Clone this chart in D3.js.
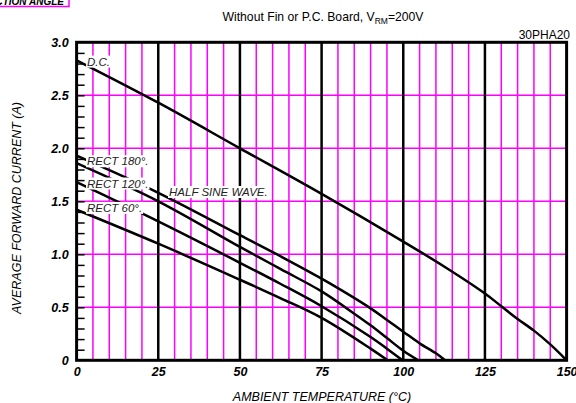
<!DOCTYPE html>
<html><head><meta charset="utf-8">
<script src="https://cdn.jsdelivr.net/npm/d3@7"></script>
<style>
html,body{margin:0;padding:0;background:#fff;overflow:hidden}
text{font-family:"Liberation Sans",Arial,sans-serif}
</style></head>
<body>
<svg id="c" width="576" height="403"></svg>
<script>
// ---- data ----
const xTicks = [0, 25, 50, 75, 100, 125, 150];
const yTicks = [0, 0.5, 1.0, 1.5, 2.0, 2.5, 3.0];
const xMinor = [5,10,15,20,30,35,40,45,55,60,65,70,80,85,90,95,105,110,115,120,130,135,140,145];
const xMajorGrid = [25, 50, 75, 100, 125];
const yGrid = [0.5, 1.0, 1.5, 2.0, 2.5];
const yMinorTicks = [0.1,0.2,0.3,0.4,0.5,0.6,0.7,0.8,0.9,1.0,1.1,1.2,1.3,1.4,1.5,1.6,1.7,1.8,1.9,2.0,2.1,2.2,2.3,2.4,2.5,2.6,2.7,2.8,2.9];

const dcTemp   = [0, 25, 50, 75, 100, 112.5, 125, 130, 135, 140, 145, 150];
const dcAmp    = [2.83, 2.43, 2.0, 1.57, 1.12, 0.885, 0.63, 0.51, 0.39, 0.28, 0.15, 0];
const r180Temp = [0, 25, 50, 62.5, 75, 90, 95, 100, 105, 110, 112.8];
const r180Amp  = [1.93, 1.58, 1.18, 0.98, 0.77, 0.49, 0.38, 0.27, 0.16, 0.066, 0];
const hsTemp   = [0, 25, 50, 62.5, 75, 85, 90, 95, 100, 104.6];
const hsAmp    = [1.86, 1.50, 1.07, 0.86, 0.65, 0.44, 0.33, 0.21, 0.09, 0];
const r120Temp = [0, 25, 50, 62.5, 75, 90, 95, 99.8];
const r120Amp  = [1.68, 1.31, 0.92, 0.72, 0.51, 0.22, 0.11, 0];
const r60Temp  = [0, 25, 50, 62.5, 75, 90, 95.2];
const r60Amp   = [1.42, 1.10, 0.76, 0.585, 0.40, 0.11, 0];

const curveLabels = ["D.C.", "RECT 180°.", "RECT 120°.", "RECT 60°.", "HALF SINE WAVE."];

// ---- drawing ----
const svg = d3.select("#c");
const x = d3.scaleLinear().domain([0, 150]).range([76.6, 566.6]);
const y = d3.scaleLinear().domain([0, 3]).range([360.3, 42.3]);
const MAG = "#ff00ff";

// grid
svg.append("g").selectAll("line").data(xMinor).join("line")
  .attr("x1", d => x(d)).attr("x2", d => x(d)).attr("y1", y(0)).attr("y2", y(3))
  .attr("stroke", MAG).attr("stroke-width", 1.5);
svg.append("g").selectAll("line").data(yGrid).join("line")
  .attr("x1", x(0)).attr("x2", x(150)).attr("y1", d => y(d)).attr("y2", d => y(d))
  .attr("stroke", MAG).attr("stroke-width", 1.5);
svg.append("g").selectAll("line").data(xMajorGrid).join("line")
  .attr("x1", d => x(d)).attr("x2", d => x(d)).attr("y1", y(0)).attr("y2", y(3))
  .attr("stroke", "#000").attr("stroke-width", 2.5);

// minor ticks on left inside
const minorAxis = svg.append("g").attr("transform", `translate(${x(0)},0)`)
  .call(d3.axisRight(y).tickValues(yMinorTicks).tickSize(8).tickFormat(""));
minorAxis.select(".domain").remove();
minorAxis.selectAll("line").attr("stroke", "#000").attr("stroke-width", 1.5);

// curves
const line = d3.line().x(d => x(d[0])).y(d => y(d[1])).curve(d3.curveCatmullRom.alpha(0.5));
const series = [
  [dcTemp, dcAmp], [r180Temp, r180Amp], [hsTemp, hsAmp], [r120Temp, r120Amp], [r60Temp, r60Amp]
];
svg.append("g").selectAll("path").data(series).join("path")
  .attr("d", s => line(s[0].map((t, i) => [t, s[1][i]])))
  .attr("fill", "none").attr("stroke", "#000").attr("stroke-width", 2.5)
  .attr("stroke-linejoin", "round");

// frame
svg.append("rect").attr("x", x(0)).attr("y", y(3))
  .attr("width", x(150) - x(0)).attr("height", y(0) - y(3))
  .attr("fill", "none").attr("stroke", "#000").attr("stroke-width", 3);

// curve labels with white background
const labelPos = [
  {t: 3.2, v: 2.78}, {t: 3.2, v: 1.84}, {t: 3.2, v: 1.63}, {t: 3.2, v: 1.40}, {t: 28.3, v: 1.55}
];
const lg = svg.append("g");
curveLabels.forEach((txt, i) => {
  const p = labelPos[i];
  const t = lg.append("text").attr("x", x(p.t)).attr("y", y(p.v))
    .attr("font-size", 11.5).attr("font-style", "italic").attr("fill", "#222").text(txt);
  const bb = t.node().getBBox();
  lg.insert("rect", "text").attr("x", bb.x - 1).attr("y", bb.y).attr("width", bb.width + 2)
    .attr("height", bb.height).attr("fill", "#fff");
});

// axes labels
const ax = svg.append("g").attr("transform", `translate(0,${y(0)})`)
  .call(d3.axisBottom(x).tickValues(xTicks).tickSize(0).tickPadding(7).tickFormat(d3.format("d")));
ax.select(".domain").remove();
ax.selectAll("text").attr("font-size", 12.5).attr("font-style", "italic").attr("font-weight", "bold")
  .attr("font-family", "Liberation Sans, Arial, sans-serif").attr("fill", "#000");

const ay = svg.append("g").attr("transform", `translate(${x(0)},0)`)
  .call(d3.axisLeft(y).tickValues(yTicks).tickSize(0).tickPadding(8)
    .tickFormat(d => d === 0 ? "0" : d3.format(".1f")(d)));
ay.select(".domain").remove();
ay.selectAll("text").attr("font-size", 12.5).attr("font-style", "italic").attr("font-weight", "bold")
  .attr("font-family", "Liberation Sans, Arial, sans-serif").attr("fill", "#000");

svg.append("text").attr("x", 322).attr("y", 401).attr("text-anchor", "middle")
  .attr("font-size", 12.5).attr("font-style", "italic").text("AMBIENT TEMPERATURE (°C)");
svg.append("text").attr("transform", "translate(21,208) rotate(-90)").attr("text-anchor", "middle")
  .attr("font-size", 12.5).attr("font-style", "italic").text("AVERAGE FORWARD CURRENT (A)");

// title
const title = svg.append("text").attr("x", 323).attr("y", 21).attr("text-anchor", "middle")
  .attr("font-size", 12.2);
title.append("tspan").text("Without Fin or P.C. Board, V");
title.append("tspan").attr("font-size", 8.5).attr("dy", 3).text("RM");
title.append("tspan").attr("dy", -3).text("=200V");

svg.append("text").attr("x", 570).attr("y", 39).attr("text-anchor", "end")
  .attr("font-size", 12).text("30PHA20");

// top-left clipped box
svg.append("rect").attr("x", -2).attr("y", -4).attr("width", 71).attr("height", 10.5)
  .attr("fill", "#fff").attr("stroke", MAG).attr("stroke-width", 1.5);
svg.append("text").attr("x", 64).attr("y", 5).attr("text-anchor", "end")
  .attr("font-size", 10).attr("font-style", "italic").attr("font-weight", "bold").text("CONDUCTION ANGLE");
</script>
</body></html>
